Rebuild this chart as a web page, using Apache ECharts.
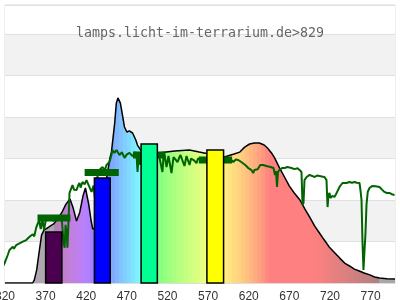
<!DOCTYPE html>
<html>
<head>
<meta charset="utf-8">
<script src="https://cdn.jsdelivr.net/npm/echarts@6/dist/echarts.min.js"></script>
<style>html,body{margin:0;padding:0;background:#fff;}#c{width:400px;height:300px;}</style>
</head>
<body>
<div id="c"></div>
<script>
// ---- DATA ----
const titleText = 'lamps.licht-im-terrarium.de>829';
const xTickStart = 320, xTickStep = 50;

// Lamp spectrum (relative intensity)
const lampNm  = [320,354,356,359,362,365,368,372,376,380,385,390,395,400,404,408,412,416,419,423,426,428,432,438,444,449,451,455,457,459,462,465,467,470,473,477,481,483,487,495,503,508,510,529,547,559,565,575,583,590,602,609,615,621,627,633,639,643,648,652,658,664,670,676,683,689,695,701,707,713,719,726,732,738,744,750,756,762,769,775,781,790,800];
const lampVal = [0,0,1.4,6.3,14.9,23.1,25.5,26.5,27.5,28.5,31,34,38,40.5,36,29.9,34,42,45.8,38,30,26,27,35,48,60,63.1,77.1,86.7,89.2,86.7,80,75.2,72.8,73.3,72.3,68.9,66.5,64.1,63,62.5,62.7,63.1,63.6,64.1,63.1,62.7,62,61,60.7,62.2,63.1,65.5,67.0,67.5,67.5,66.5,65.1,62.7,60.2,55.4,51.1,46.7,43.4,40.0,35.7,31.8,27.5,24.1,20.7,17.4,14.5,12.0,9.6,8.2,6.7,5.8,4.8,3.9,2.9,2.4,2.1,1.9];

// Sunlight reference spectrum
const sunNm  = [313,315.3,319.4,323.4,325.5,327,329.6,331,333.8,336,337.8,340,341.9,344,346.1,348,350.2,352,354.2,356,358.4,360,362,364,366,368,370,375,380,385,388,390,392,393.4,394.5,396,396.8,398,399.4,403.1,405,408,410,411.7,413,415.4,418,420.3,422,424,426.5,429,431,433,436,440,443,444.9,448.6,451,452.3,454.8,457.2,460.9,464,467.1,470,473.2,476.9,480.6,482,483.1,484.5,486.5,488,492,496,500,504,507.7,510.2,512,513.8,515,516.3,518.8,521.2,524.9,527.4,530,532.3,534,536,538,540.9,543.4,547.1,549,550.8,553,555.7,557.5,559.4,563,568,575,582,589,594,598.5,601,604,607.1,610.8,613,615.7,617,619.4,621,623.1,625.5,627,629.2,631,634.2,637.8,641.7,644,646.8,650.5,652.3,653.5,654.8,656,657.8,661,664,667.7,670,672.6,676.3,680,682.5,684.9,686.2,687.4,688.6,691,694.8,698,701,704,707.1,710,713.2,715.7,717,718.2,719.4,720.5,721.8,723,725.5,727,729.2,731.7,735.4,740.3,744,747,750.2,753,756.3,757.5,758.8,760,761.2,762.5,763.7,764.9,766.5,768.6,772.3,776,780.9,784,787,790,793.2,796,799.4];
const sunVal = [4.7,6.3,9.5,13.5,15.9,15,17.5,16.5,18.3,17.5,19.1,18.5,19.9,19,20.7,20,22.3,21.5,23.5,22.5,26.7,28.4,30,26,31,25.5,30,31,30,32,31,30,20,17,28,24,17,28,43.4,47.2,45,44.8,47,48.2,46,48.7,47.5,49.6,48,47.2,43.9,47,40,50,54.5,55.9,54.5,56.9,58.3,61.7,64.1,62.7,64.1,61.7,63,60.3,62,62.7,61.2,63.1,61,53.5,61.5,57,62.2,60.7,62,61,62.5,61.7,60.2,61,53.5,60.5,61.7,55.9,61.2,53.0,60.7,59.5,58.3,60,61.7,59.5,56.4,61.2,56.9,60,60.7,59,57.8,60,60.2,59,60,59,60,59.5,60,59.3,58.3,59.5,59.3,58.3,59,56.9,57.5,55.4,55.8,54.5,53.0,54.5,55.4,54.8,56.9,56.9,56.4,56.9,55.9,55.4,52,54,46.3,53.5,54.5,55.4,55.4,55.9,55,55.4,54.9,55.3,54.5,53.5,37.6,38.6,49.6,51,52.1,51.6,51.1,51.8,51.6,51.3,51.1,49.6,36.6,42.4,43.4,41,40.5,42,41.5,42.5,43.4,46.3,48.2,48.2,48.7,48.3,48.7,48.3,48.2,44.8,40.0,19.3,6.3,15.9,24.1,37.6,44,45.8,46.8,46.6,46.3,45,43.9,43.4,43.4,42.8,42.4];

// LED channels: band start, band end (nm), intensity
const ledStart = [370, 430, 487.5, 568.5];
const ledEnd   = [390, 449.5, 507.5, 589];
const ledVal   = [24.6, 50.6, 67.0, 64.1];

// Sunlight average over each channel band
const sunBandStart = [360, 418, 477.5, 558.5];
const sunBandEnd   = [400.5, 460, 517.5, 599.5];
const sunBandVal   = [31.3, 53.3, 61.7, 59.3];

// ---- STYLE ----
const ledColors = ['#4b004f', '#0000ff', '#00ff92', '#ffff00'];
const sunColor = '#006400';

function bruton(w) {
  let r = 0, g = 0, b = 0;
  if (w >= 380 && w < 440) { r = -(w - 440) / 60; b = 1; }
  else if (w >= 440 && w < 490) { g = (w - 440) / 50; b = 1; }
  else if (w >= 490 && w < 510) { g = 1; b = -(w - 510) / 20; }
  else if (w >= 510 && w < 580) { r = (w - 510) / 70; g = 1; }
  else if (w >= 580 && w < 645) { r = 1; g = -(w - 645) / 65; }
  else if (w >= 645 && w <= 780) { r = 1; }
  let f = 1;
  if (w < 420) f = 0.3 + 0.7 * (w - 380) / 40;
  else if (w > 700) f = 0.3 + 0.7 * (780 - w) / 80;
  const adj = x => x === 0 ? 0 : Math.round(255 * Math.pow(x * f, 0.8));
  return [adj(r), adj(g), adj(b)];
}
function fillColor(w) {
  if (w < 380) return 'rgb(176,168,176)';
  if (w > 780) return 'rgb(168,168,168)';
  const c = bruton(w).map(v => Math.round((v + 255) / 2));
  return 'rgb(' + c.join(',') + ')';
}
const xMin = 320, xMax = 800;
const stops = [];
for (let w = xMin; w < xMax; w += 5) {
  const c = fillColor(w + 2.5);
  stops.push({ offset: (w - xMin) / (xMax - xMin), color: c });
  stops.push({ offset: Math.min(1, (w + 5 - xMin) / (xMax - xMin)), color: c });
}

const chart = echarts.init(document.getElementById('c'), null, { renderer: 'canvas' });
chart.setOption({
  animation: false,
  backgroundColor: '#fff',
  title: {
    text: titleText, left: 'center', top: 22,
    textStyle: { fontFamily: 'DejaVu Sans Mono', fontSize: 13.3, fontWeight: 'normal', color: '#666' }
  },
  grid: { left: 5, right: 5, top: 5, bottom: 17, show: true, borderColor: '#dddddd', borderWidth: 1,
          containLabel: false, outerBoundsMode: 'none' },
  xAxis: {
    type: 'value', min: xMin, max: xMax, interval: 10,
    axisLine: { show: true, lineStyle: { color: '#dddddd' } },
    axisTick: { show: false },
    splitLine: { show: false },
    axisLabel: {
      color: '#333', fontSize: 12, fontFamily: 'Liberation Sans', margin: 8,
      showMinLabel: true, showMaxLabel: false, hideOverlap: false,
      alignMinLabel: 'center',
      formatter: v => ((v - xTickStart) % xTickStep === 0 && v < xMax) ? String(v) : ''
    }
  },
  yAxis: {
    type: 'value', min: 0, max: 134, interval: 20,
    axisLine: { show: false }, axisTick: { show: false }, axisLabel: { show: false },
    splitLine: { show: true, lineStyle: { color: '#e0e0e0' } },
    splitArea: { show: true, areaStyle: { color: ['#ffffff', '#f2f2f2'] } }
  },
  series: [
    {
      type: 'line', z: 2, symbol: 'none',
      data: lampNm.map((n, i) => [n, lampVal[i]]),
      lineStyle: { color: '#000', width: 1.5 },
      areaStyle: { opacity: 1, color: new echarts.graphic.LinearGradient(0, 0, 1, 0, stops) }
    },
    {
      type: 'line', z: 3, symbol: 'none', clip: false,
      data: sunNm.map((n, i) => [n, sunVal[i]]),
      lineStyle: { color: sunColor, width: 2 }
    },
    {
      type: 'custom', z: 4,
      data: sunBandStart.map((s, i) => [s, sunBandEnd[i], sunBandVal[i]]),
      encode: { x: [0, 1], y: 2 },
      renderItem: function (params, api) {
        const p = api.coord([api.value(0), api.value(2)]);
        const q = api.coord([api.value(1), api.value(2)]);
        return { type: 'rect', shape: { x: p[0], y: p[1] - 3.5, width: q[0] - p[0], height: 7 }, style: { fill: sunColor } };
      }
    },
    {
      type: 'custom', z: 5,
      data: ledStart.map((s, i) => [s, ledEnd[i], ledVal[i]]),
      encode: { x: [0, 1], y: 2 },
      renderItem: function (params, api) {
        const p = api.coord([api.value(0), api.value(2)]);
        const q = api.coord([api.value(1), 0]);
        return { type: 'rect', shape: { x: p[0], y: p[1], width: q[0] - p[0], height: q[1] - p[1] },
          style: { fill: ledColors[params.dataIndex], stroke: '#000', lineWidth: 1.5 } };
      }
    }
  ]
});
</script>
</body>
</html>
